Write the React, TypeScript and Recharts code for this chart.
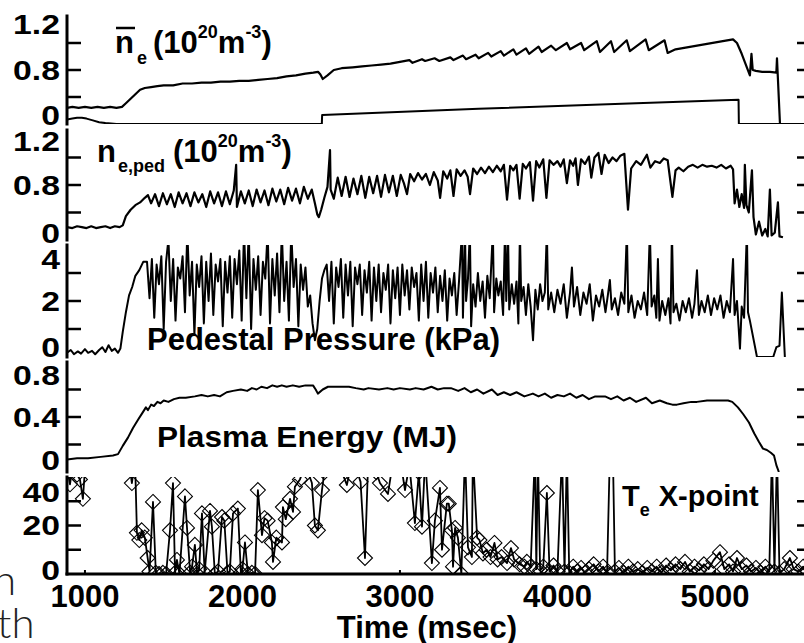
import React from "react";
import { LineChart, Line, XAxis, YAxis } from "recharts";

const FONT = "'Liberation Sans', Arial, Helvetica, sans-serif";

// ---------- axes ----------
const TIME_DOMAIN: [number, number] = [886, 5610];
const TIME_TICKS = [1000, 2000, 3000, 4000, 5000];
const TIME_TICK_LABELS = ["1000", "2000", "3000", "4000", "5000"];

const NE_TICKS = [0, 0.3, 0.6, 0.9, 1.2];
const NE_TICK_LABELS = ["0", "", "0.8", "", "1.2"];
const PP_TICKS = [0, 1, 2, 3, 4];
const PP_TICK_LABELS = ["0", "", "2", "", "4"];
const W_TICKS = [0, 0.2, 0.4, 0.6, 0.8];
const W_TICK_LABELS = ["0", "", "0.4", "", "0.8"];
const TE_TICKS = [0, 10, 20, 30, 40];
const TE_TICK_LABELS = ["0", "", "20", "", "40"];

// ---------- data: [time (msec), value] ----------
const NE_BAR: [number, number][] = [
  [886,0.18],[920,0.19],[960,0.18],[1000,0.19],[1040,0.18],[1080,0.19],[1120,0.18],[1160,0.19],[1200,0.18],[1235,0.19],
  [1260,0.23],[1290,0.28],[1320,0.33],[1350,0.38],[1380,0.40],[1420,0.41],[1460,0.42],[1500,0.43],[1560,0.43],[1620,0.45],
  [1680,0.45],[1740,0.46],[1800,0.46],[1860,0.47],[1920,0.47],[1980,0.48],[2040,0.48],[2100,0.49],[2160,0.50],[2220,0.51],
  [2280,0.53],[2340,0.54],[2400,0.56],[2450,0.57],[2480,0.58],[2495,0.55],[2510,0.50],[2540,0.54],[2580,0.60],[2630,0.62],
  [2700,0.63],[2760,0.64],[2820,0.65],[2880,0.66],[2940,0.67],[3000,0.69],
  [3060,0.71],[3080,0.68],[3140,0.72],[3160,0.70],[3220,0.73],[3250,0.70],[3320,0.74],[3340,0.71],[3400,0.76],[3420,0.72],
  [3480,0.77],[3500,0.73],[3560,0.79],[3580,0.75],[3640,0.81],[3660,0.76],[3720,0.83],[3740,0.77],[3800,0.84],[3820,0.78],
  [3880,0.86],[3900,0.80],[3960,0.87],[3990,0.82],[4060,0.90],[4080,0.83],[4150,0.90],[4170,0.82],[4250,0.92],[4270,0.80],
  [4340,0.92],[4360,0.80],[4440,0.93],[4460,0.81],[4560,0.94],[4580,0.82],[4680,0.93],[4700,0.79],[4750,0.83],[4850,0.86],
  [4950,0.89],[5050,0.92],[5115,0.94],[5140,0.90],[5170,0.78],[5222,0.54],[5232,0.78],[5240,0.60],[5260,0.59],[5300,0.58],
  [5350,0.58],[5390,0.57],[5394,0.73],[5400,0.50],[5413,0.0],
];

const NE_BAR_LOW: [number, number][] = [
  [886,0.05],[920,0.06],[950,0.07],[980,0.07],[1010,0.06],[1050,0.04],[1090,0.02],[1130,0.01],[1200,0.0],
  [2504,0.0],[2506,0.10],[3500,0.17],[4500,0.23],[5150,0.27],[5152,0.0],[5600,0.0],
];

const NE_PED: [number, number][] = [
  [886,0.14],[920,0.13],[950,0.15],[980,0.14],[1010,0.13],[1040,0.15],[1070,0.13],[1100,0.14],[1130,0.15],[1160,0.13],
  [1190,0.15],[1220,0.14],[1240,0.16],[1260,0.26],[1290,0.33],[1320,0.38],[1350,0.41],[1380,0.46],[1400,0.49],
  [1420,0.40],[1445,0.50],[1470,0.37],[1495,0.51],[1520,0.39],[1545,0.50],[1570,0.36],[1595,0.52],[1620,0.40],[1645,0.51],
  [1670,0.37],[1695,0.52],[1720,0.41],[1745,0.50],[1770,0.36],[1795,0.53],[1820,0.40],[1845,0.52],[1870,0.37],[1895,0.53],
  [1920,0.39],[1945,0.54],[1960,0.82],[1965,0.36],[1990,0.53],[2015,0.40],[2040,0.54],[2065,0.37],[2090,0.55],[2115,0.41],
  [2140,0.54],[2165,0.38],[2190,0.56],[2215,0.42],[2240,0.55],[2265,0.39],[2290,0.57],[2315,0.43],[2340,0.56],[2365,0.40],
  [2390,0.58],[2415,0.45],[2440,0.55],[2460,0.40],[2475,0.28],[2485,0.25],[2500,0.33],[2520,0.46],[2540,0.58],[2556,0.98],
  [2560,0.55],[2580,0.45],[2605,0.68],[2630,0.48],[2655,0.69],[2680,0.47],[2705,0.67],[2730,0.50],[2755,0.70],[2780,0.46],
  [2805,0.69],[2830,0.51],[2855,0.70],[2880,0.47],[2905,0.71],[2930,0.52],[2955,0.70],[2980,0.48],
  [3005,0.71],[3025,0.62],[3045,0.50],[3065,0.72],[3090,0.64],[3115,0.73],[3140,0.66],[3165,0.72],[3190,0.60],[3215,0.74],
  [3240,0.65],[3255,0.46],[3275,0.75],[3300,0.67],[3320,0.76],[3340,0.48],[3360,0.77],[3385,0.70],[3410,0.76],[3430,0.69],
  [3445,0.50],[3465,0.78],[3490,0.72],[3515,0.79],[3540,0.73],[3565,0.80],[3590,0.74],[3615,0.81],[3640,0.75],[3660,0.82],
  [3680,0.44],[3700,0.81],[3720,0.76],[3740,0.82],[3760,0.45],[3780,0.83],[3800,0.78],[3825,0.85],[3845,0.43],[3865,0.86],
  [3885,0.79],[3910,0.88],[3930,0.46],[3950,0.87],[3975,0.82],[4000,0.86],[4020,0.80],[4040,0.88],[4060,0.62],[4080,0.87],
  [4100,0.81],[4115,0.89],[4130,0.60],[4150,0.88],[4175,0.83],[4200,0.91],[4215,0.68],[4235,0.90],[4260,0.95],[4280,0.72],
  [4300,0.93],[4325,0.84],[4350,0.90],[4375,0.86],[4400,0.92],[4425,0.94],[4448,0.33],[4468,0.78],[4500,0.86],[4530,0.82],
  [4568,0.93],[4590,0.79],[4620,0.86],[4650,0.84],[4675,0.89],[4700,0.87],[4730,0.47],[4750,0.76],[4770,0.79],[4800,0.75],
  [4830,0.80],[4860,0.82],[4890,0.79],[4920,0.82],[4950,0.80],[4980,0.81],[5010,0.79],[5040,0.82],[5070,0.78],[5100,0.81],
  [5115,0.77],[5125,0.40],[5140,0.55],[5155,0.36],[5170,0.50],[5185,0.35],[5190,0.82],[5200,0.38],[5215,0.30],[5235,0.76],
  [5245,0.25],[5260,0.06],[5280,0.20],[5300,0.05],[5320,0.12],[5335,0.04],[5349,0.55],[5360,0.05],[5380,0.08],[5400,0.41],
  [5410,0.04],[5432,0.03],
];

const PED_P: [number, number][] = [
  [886,0.15],[910,0.25],[930,0.10],[955,0.20],[975,0.12],[1000,0.28],[1020,0.15],[1045,0.22],[1065,0.10],[1090,0.25],
  [1110,0.35],[1130,0.18],[1150,0.42],[1170,0.22],[1190,0.30],[1210,0.15],[1225,0.30],[1240,0.9],[1260,1.6],[1280,2.2],
  [1300,2.5],[1320,2.9],[1345,3.1],[1370,3.4],[1394,3.4],
  [1410,2.1],[1425,3.5],[1440,1.4],[1455,3.3],[1470,2.6],[1485,3.6],[1500,1.0],[1515,3.4],[1530,4.2],[1545,2.0],
  [1560,3.5],[1575,1.3],[1590,3.2],[1605,2.8],[1620,3.6],[1635,1.6],[1650,4.5],[1665,2.2],[1680,3.4],[1695,0.8],
  [1710,3.3],[1725,2.5],[1740,3.6],[1755,1.2],[1770,3.4],[1785,2.0],[1800,3.7],[1815,1.5],[1830,3.3],[1845,2.7],
  [1860,3.5],[1875,1.1],[1890,3.4],[1905,2.3],[1920,3.6],[1935,1.4],[1950,3.5],[1965,2.6],[1980,3.8],[1995,1.3],
  [2010,4.5],[2025,2.1],[2040,4.5],[2055,1.0],[2070,3.5],[2085,2.4],[2100,3.6],[2115,1.5],[2130,3.4],[2145,2.8],
  [2160,4.5],[2175,1.2],[2190,3.5],[2205,2.2],[2220,3.7],[2235,1.6],[2250,4.5],[2265,2.0],[2280,3.4],[2295,1.3],
  [2310,4.5],[2325,2.5],[2340,3.5],[2355,1.1],[2370,3.3],[2385,2.4],[2400,3.2],[2415,1.8],
  [2430,2.2],[2445,1.2],[2460,0.6],[2475,1.0],[2490,2.0],[2505,2.8],[2520,3.1],[2535,3.3],
  [2550,2.0],[2565,3.4],[2580,1.2],[2595,3.2],[2610,2.5],[2625,3.5],[2640,1.4],[2655,3.3],[2670,2.2],[2685,3.4],
  [2700,1.1],[2715,3.2],[2730,2.6],[2745,3.3],[2760,1.5],[2775,3.1],[2790,2.3],[2805,3.4],[2820,1.3],[2835,3.2],
  [2850,2.0],[2865,3.3],[2880,1.6],[2895,3.0],[2910,2.4],[2925,3.3],[2940,1.2],[2955,3.1],[2970,2.1],[2985,3.2],
  [3000,1.5],[3015,3.3],[3030,2.2],[3045,3.1],[3060,1.7],[3075,3.2],[3090,2.5],[3105,3.0],[3120,1.3],[3135,3.3],
  [3150,2.0],[3165,3.4],[3180,1.4],[3195,3.0],[3210,2.3],[3225,3.2],[3240,1.6],[3255,2.9],[3270,2.0],[3285,3.1],
  [3300,1.3],[3315,2.8],[3330,2.2],[3345,3.0],[3360,1.5],[3375,2.7],[3394,4.5],[3400,1.4],[3413,4.5],[3420,2.0],
  [3432,2.8],[3444,4.5],[3452,1.1],[3465,2.6],[3480,1.8],[3495,3.0],[3510,2.0],[3525,2.7],[3540,1.4],[3555,2.9],
  [3570,2.1],[3590,4.5],[3598,1.6],[3612,2.8],[3625,2.2],[3640,2.7],[3655,1.5],[3667,4.5],[3675,2.0],[3686,4.5],
  [3694,1.7],[3710,2.6],[3725,1.9],[3740,2.7],[3752,1.2],[3762,4.5],[3770,2.0],[3785,2.5],[3800,1.5],[3815,2.6],
  [3830,1.8],[3845,0.6],[3860,2.4],[3875,1.7],[3890,2.6],[3905,2.0],[3920,2.3],[3933,4.5],[3942,1.7],
  [3960,2.3],[3980,1.6],[4000,2.4],[4020,1.9],[4040,2.6],[4060,1.4],[4080,2.3],[4092,3.2],[4105,1.8],[4125,2.5],
  [4145,1.5],[4165,2.3],[4185,1.9],[4205,2.6],[4225,1.3],[4245,2.2],[4265,1.8],[4285,2.4],[4305,1.6],[4320,2.2],
  [4333,2.75],[4345,1.7],[4365,2.1],[4385,1.5],[4405,2.3],[4425,1.9],[4441,4.5],[4450,1.6],[4470,2.2],[4490,1.4],
  [4510,2.0],[4530,1.7],[4550,2.3],[4570,1.5],[4587,4.5],[4598,1.8],[4615,2.2],[4628,1.4],[4638,3.5],[4648,1.3],
  [4665,2.0],[4685,1.5],[4705,2.1],[4718,1.2],[4727,4.5],[4737,1.6],[4755,1.9],[4775,1.3],[4795,2.0],[4815,1.6],
  [4835,2.1],[4855,1.4],[4870,1.9],[4886,3.1],[4898,1.5],[4915,2.0],[4935,1.6],[4955,2.2],[4975,1.5],[4995,2.1],
  [5015,1.7],[5035,2.2],[5055,1.4],[5075,2.0],[5095,1.6],[5115,3.5],[5125,1.5],[5140,2.0],[5150,1.1],[5159,0.3],
  [5170,1.8],[5185,1.4],[5203,4.5],[5210,1.6],[5222,1.3],[5267,0.0],[5370,0.0],[5390,0.35],[5410,0.4],[5425,2.3],
  [5444,0.0],
];

const W_MHD: [number, number][] = [
  [886,0.09],[950,0.10],[1020,0.10],[1100,0.11],[1178,0.12],[1210,0.13],[1240,0.19],[1273,0.25],[1305,0.32],[1337,0.38],
  [1365,0.43],[1387,0.47],[1400,0.45],[1420,0.49],[1438,0.48],[1460,0.51],[1480,0.50],[1500,0.52],[1530,0.51],[1565,0.53],
  [1600,0.54],[1640,0.54],[1698,0.55],[1740,0.56],[1780,0.55],[1820,0.56],[1857,0.55],[1900,0.58],[1940,0.59],[1990,0.60],
  [2030,0.59],[2060,0.61],[2090,0.60],[2120,0.62],[2156,0.61],[2190,0.63],[2220,0.62],[2250,0.63],[2280,0.62],[2320,0.63],
  [2360,0.62],[2400,0.63],[2448,0.63],[2465,0.60],[2479,0.57],[2510,0.60],[2543,0.62],[2600,0.62],[2676,0.62],[2720,0.61],
  [2770,0.60],[2800,0.61],[2867,0.60],[2920,0.61],[2960,0.60],[3000,0.61],[3063,0.60],[3100,0.61],[3150,0.60],[3200,0.62],
  [3240,0.60],[3280,0.61],[3324,0.61],[3370,0.59],[3410,0.61],[3450,0.58],[3490,0.60],[3530,0.57],[3584,0.60],[3620,0.56],
  [3660,0.58],[3700,0.56],[3740,0.58],[3790,0.55],[3844,0.57],[3880,0.55],[3920,0.57],[3960,0.54],[4000,0.56],[4041,0.55],
  [4080,0.57],[4120,0.54],[4160,0.56],[4200,0.53],[4240,0.55],[4302,0.55],[4340,0.53],[4380,0.55],[4420,0.52],[4460,0.54],
  [4500,0.51],[4562,0.54],[4600,0.50],[4650,0.52],[4695,0.50],[4730,0.49],[4759,0.49],[4800,0.50],[4850,0.51],[4886,0.51],
  [4950,0.52],[5000,0.52],[5083,0.52],[5110,0.51],[5146,0.47],[5180,0.42],[5216,0.36],[5250,0.28],[5279,0.22],[5305,0.17],
  [5330,0.16],[5355,0.14],[5375,0.12],[5390,0.05],[5406,0.0],
];

const TE_X: [number, number][] = [
  [886,44],[905,37],[925,46],[950,41],[968,39],[987,31],[1005,48],[1100,55],[1200,52],[1280,46],
  [1298,37.5],[1318,47],[1330,17],[1345,14],[1360,18],[1380,15],[1398,6.6],[1410,1],[1432,29.7],[1450,0.5],
  [1470,0],[1495,0.5],[1515,0],[1540,18],[1559,37.5],[1572,0.5],[1584,5.8],[1600,0],[1635,32],[1648,19],
  [1668,0.5],[1680,3],[1698,12],[1712,0],[1725,2],[1743,25],[1760,0.5],[1794,26],[1806,19.5],[1825,0],
  [1845,1],[1870,23.5],[1885,22],[1905,0.5],[1920,1],[1940,25],[1971,27],[1990,0.5],[2000,2],[2016,13],
  [2035,0],[2060,0.5],[2080,0],[2098,34.6],[2124,16],[2140,23],[2160,22],[2187,13],[2194,5],[2215,15],
  [2251,13],[2257,27.6],[2275,22.6],[2302,31],[2321,25.6],[2333,36],[2365,39],[2400,45],[2441,37.5],[2460,20],
  [2479,18],[2505,34.6],[2520,42],[2560,50],[2620,44],[2663,36.7],[2700,48],[2750,38],[2778,6.6],[2800,50],
  [2850,42],[2873,37.5],[2924,33],[2950,44],[3000,48],[3032,34.6],[3060,45],[3095,21],[3120,42],[3140,19.5],
  [3160,48],[3203,4.5],[3222,22],[3254,35.5],[3267,10],[3298,29],[3310,29],[3330,18],[3337,3],[3350,19],
  [3368,15],[3390,0],[3413,50],[3432,11],[3457,7],[3463,50],[3490,15],[3505,14],[3527,8.5],[3550,10],
  [3575,7],[3600,12.8],[3620,6],[3645,7],[3680,4.5],[3705,10.7],[3725,6],[3760,4],[3790,3],[3806,5],
  [3830,3],[3857,50],[3866,2],[3876,50],[3890,1.5],[3910,3],[3933,33.4],[3950,1],[3975,3.5],[4000,1],
  [4029,50],[4045,1],[4060,50],[4075,0.5],[4100,3],[4125,1],[4150,2.5],[4175,0.5],[4200,2],[4230,4],
  [4260,1],[4290,3],[4315,0.5],[4333,50],[4352,50],[4365,1],[4390,2.5],[4420,0.5],[4450,3],[4480,1],
  [4510,2],[4540,0.5],[4570,2.5],[4600,1],[4630,3],[4660,0.5],[4690,3.5],[4720,1.5],[4750,4],[4780,2],
  [4810,5],[4840,1],[4870,3],[4900,1.5],[4930,4],[4960,2],[4990,5.5],[5032,9],[5060,2],[5090,4],
  [5115,1],[5140,6.6],[5170,2],[5200,3.5],[5230,1],[5260,2.5],[5290,0.5],[5320,3],[5345,1],[5362,50],
  [5378,1],[5394,50],[5410,0.5],[5440,2],[5476,6.6],[5500,2],[5530,1],[5560,3],[5590,1],
];

// ---------- helpers ----------
const rows = (pts: [number, number][]) => pts.map(([t, v]) => ({ t, v }));

const CHART_W = 830;
const LEFT_W = 67;
const RIGHT_W = 19;

const makeLeftTick = (ticks: number[], labels: string[], topDy: number, bottomDy: number) => (props: any) => {
  const { x, y, payload } = props;
  const i = ticks.indexOf(payload.value);
  const last = ticks.length - 1;
  const dy = i === last ? topDy : i === 0 ? bottomDy : 0;
  return (
    <g>
      {i > 0 && i < last ? <line x1={x} x2={x + 14} y1={y} y2={y} stroke="#000" strokeWidth={2.5} /> : null}
      {labels[i] ? (
        <text
          transform={`translate(${x - 7},${y + dy}) scale(1.25,1)`}
          textAnchor="end"
          dominantBaseline="central"
          fontSize={27}
          fontWeight={700}
          fontFamily={FONT}
          fill="#000"
        >
          {labels[i]}
        </text>
      ) : null}
    </g>
  );
};

const makeRightTick = (ticks: number[]) => (props: any) => {
  const { x, y, payload } = props;
  const i = ticks.indexOf(payload.value);
  if (i <= 0 || i >= ticks.length - 1) return <g />;
  return <line x1={x} x2={x - 14} y1={y} y2={y} stroke="#000" strokeWidth={2.5} />;
};

const TopTick = (props: any) => {
  const { x, y } = props;
  return <line x1={x} x2={x} y1={y} y2={y + 4} stroke="#000" strokeWidth={2} />;
};

const makeBottomTick = (showLabels: boolean) => (props: any) => {
  const { x, y, payload } = props;
  const i = TIME_TICKS.indexOf(payload.value);
  return (
    <g>
      <line x1={x} x2={x} y1={y} y2={y - 4} stroke="#000" strokeWidth={2} />
      {showLabels ? (
        <text x={x} y={y + 33} textAnchor="middle" fontSize={31} fontWeight={700} fontFamily={FONT} fill="#000">
          {TIME_TICK_LABELS[i]}
        </text>
      ) : null}
    </g>
  );
};

const Diamond = (props: any) => {
  const { cx, cy, index } = props;
  if (cx == null || cy == null || isNaN(cx) || isNaN(cy)) return <g key={`d${index}`} />;
  const s = 7.5;
  return (
    <path
      key={`d${index}`}
      d={`M${cx},${cy - s}L${cx + s},${cy}L${cx},${cy + s}L${cx - s},${cy}Z`}
      fill="none"
      stroke="#000"
      strokeWidth={1.1}
    />
  );
};

const frame = { stroke: "#000", strokeWidth: 3, strokeLinecap: "square" as const };

type SeriesDef = { pts: [number, number][]; width: number; dots?: boolean };

function Panel(p: {
  plotTop: number;
  plotBottom: number;
  ticks: number[];
  labels: string[];
  topDy: number;
  bottomDy: number;
  series: SeriesDef[];
  xLabels?: boolean;
}) {
  const mTop = 10;
  const xH = p.xLabels ? 45 : 0;
  const mBottom = p.xLabels ? 0 : 10;
  const h = p.plotBottom - p.plotTop + mTop + mBottom + xH;
  const domain: [number, number] = [p.ticks[0], p.ticks[p.ticks.length - 1]];
  return (
    <div style={{ position: "absolute", left: 0, top: p.plotTop - mTop }}>
      <LineChart width={CHART_W} height={h} margin={{ top: mTop, right: 0, bottom: mBottom, left: 0 }}>
        <XAxis
          dataKey="t"
          type="number"
          domain={TIME_DOMAIN}
          ticks={TIME_TICKS}
          allowDataOverflow
          interval={0}
          height={xH}
          tickSize={0}
          tickMargin={0}
          tickLine={false}
          axisLine={frame}
          tick={makeBottomTick(!!p.xLabels)}
        />
        <XAxis
          xAxisId="top"
          orientation="top"
          type="number"
          domain={TIME_DOMAIN}
          ticks={TIME_TICKS}
          allowDataOverflow
          interval={0}
          height={0}
          tickSize={0}
          tickMargin={0}
          tickLine={false}
          axisLine={frame}
          tick={TopTick}
        />
        <YAxis
          yAxisId="l"
          type="number"
          domain={domain}
          ticks={p.ticks}
          allowDataOverflow
          interval={0}
          width={LEFT_W}
          tickSize={0}
          tickMargin={0}
          tickLine={false}
          axisLine={frame}
          tick={makeLeftTick(p.ticks, p.labels, p.topDy, p.bottomDy)}
        />
        <YAxis
          yAxisId="r"
          orientation="right"
          type="number"
          domain={domain}
          ticks={p.ticks}
          allowDataOverflow
          interval={0}
          width={RIGHT_W}
          tickSize={0}
          tickMargin={0}
          tickLine={false}
          axisLine={frame}
          tick={makeRightTick(p.ticks)}
        />
        {p.series.map((s, k) => (
          <Line
            key={k}
            yAxisId="l"
            data={rows(s.pts)}
            dataKey="v"
            type="linear"
            stroke="#000"
            strokeWidth={s.width}
            strokeLinejoin="round"
            dot={s.dots ? Diamond : false}
            activeDot={false}
            isAnimationActive={false}
          />
        ))}
      </LineChart>
    </div>
  );
}

export default function App() {
  const txt = { fontFamily: FONT, fontWeight: 700, fill: "#000" } as const;
  return (
    <div
      style={{
        position: "absolute",
        left: 0,
        top: 0,
        width: 804,
        height: 643,
        overflow: "hidden",
        background: "#fff",
      }}
    >
      <Panel plotTop={16} plotBottom={124} ticks={NE_TICKS} labels={NE_TICK_LABELS} topDy={8} bottomDy={-9}
        series={[{ pts: NE_BAR, width: 2.2 }, { pts: NE_BAR_LOW, width: 2 }]} />
      <Panel plotTop={130} plotBottom={240} ticks={NE_TICKS} labels={NE_TICK_LABELS} topDy={11} bottomDy={-7}
        series={[{ pts: NE_PED, width: 2.2 }]} />
      <Panel plotTop={245} plotBottom={357} ticks={PP_TICKS} labels={PP_TICK_LABELS} topDy={14} bottomDy={-10}
        series={[{ pts: PED_P, width: 2 }]} />
      <Panel plotTop={362} plotBottom={472} ticks={W_TICKS} labels={W_TICK_LABELS} topDy={13} bottomDy={-12}
        series={[{ pts: W_MHD, width: 2 }]} />
      <Panel plotTop={477} plotBottom={574} ticks={TE_TICKS} labels={TE_TICK_LABELS} topDy={15} bottomDy={-4}
        series={[{ pts: TE_X, width: 1.8, dots: true }]} xLabels />

      <svg width={804} height={643} style={{ position: "absolute", left: 0, top: 0, pointerEvents: "none" }}>
        {/* panel 1 label */}
        <line x1={116} x2={135} y1={28} y2={28} stroke="#000" strokeWidth={2.5} />
        <text x={115} y={53} fontSize={31} {...txt}>
          n
          <tspan fontSize={18} dx={3} dy={11}>e</tspan>
          <tspan fontSize={31} dx={6} dy={-11}>(10</tspan>
          <tspan fontSize={18} dy={-15}>20</tspan>
          <tspan fontSize={31} dy={15}>m</tspan>
          <tspan fontSize={18} dy={-15}>-3</tspan>
          <tspan fontSize={31} dy={15}>)</tspan>
        </text>
        {/* panel 2 label */}
        <text x={97} y={162} fontSize={31} {...txt}>
          n
          <tspan fontSize={18} dx={2} dy={10}>e,ped</tspan>
          <tspan fontSize={31} dx={8} dy={-10}>(10</tspan>
          <tspan fontSize={18} dy={-15}>20</tspan>
          <tspan fontSize={31} dy={15}>m</tspan>
          <tspan fontSize={18} dy={-15}>-3</tspan>
          <tspan fontSize={31} dy={15}>)</tspan>
        </text>
        <text x={147} y={350} fontSize={31} textLength={353} lengthAdjust="spacingAndGlyphs" {...txt}>
          Pedestal Pressure (kPa)
        </text>
        <text x={157} y={447} fontSize={29} textLength={300} lengthAdjust="spacingAndGlyphs" {...txt}>
          Plasma Energy (MJ)
        </text>
        <text x={622} y={506} fontSize={29} {...txt}>
          T
          <tspan fontSize={18} dy={10}>e</tspan>
          <tspan fontSize={29} dx={9} dy={-10}>X-point</tspan>
        </text>
        <text x={427} y={638} fontSize={31} textAnchor="middle" {...txt}>
          Time (msec)
        </text>
        {/* cropped fragments of surrounding document text */}
        <text x={-7} y={595} fontSize={42} fontFamily="Lato, 'Open Sans', 'DejaVu Sans', sans-serif" fontWeight={300} fill="#222">
          n
        </text>
        <text x={-3} y={638} fontSize={42} fontFamily="Lato, 'Open Sans', 'DejaVu Sans', sans-serif" fontWeight={300} fill="#222">
          th
        </text>
      </svg>
    </div>
  );
}
